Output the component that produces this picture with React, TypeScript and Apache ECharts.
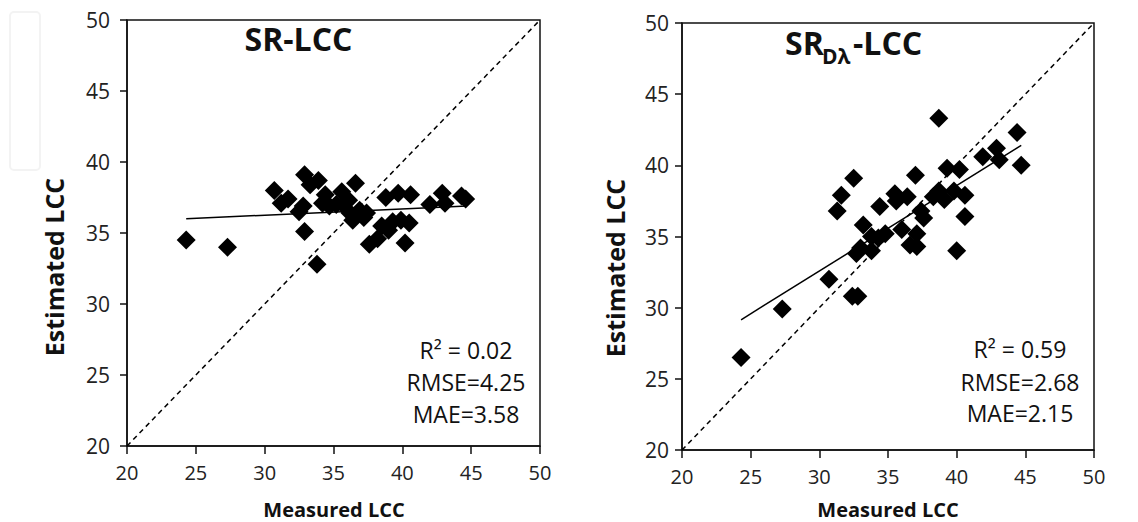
import React, { useEffect, useRef } from "react";
import * as echarts from "echarts";

// ---- data ----
const axisMin = 20;
const axisMax = 50;
const axisStep = 5;

const srPoints: number[][] = [
  [24.3, 34.5], [27.3, 34.0], [30.7, 38.0], [31.2, 37.1], [31.7, 37.4], [32.5, 36.5],
  [32.8, 36.9], [32.9, 35.1], [32.9, 39.1], [33.3, 38.4], [33.8, 32.8], [33.9, 38.7],
  [34.2, 37.1], [34.4, 37.7], [34.7, 36.9], [35.2, 37.0], [35.6, 37.9], [35.7, 37.0],
  [36.1, 37.3], [36.2, 36.4], [36.4, 35.9], [36.6, 38.5], [36.9, 36.6], [37.2, 36.1],
  [37.4, 36.4], [37.6, 34.2], [38.2, 34.6], [38.5, 35.5], [38.8, 37.5], [39.0, 35.2],
  [39.3, 35.8], [39.7, 37.8], [39.9, 35.9], [40.2, 34.3], [40.5, 35.7], [40.6, 37.7],
  [42.0, 37.0], [42.9, 37.8], [43.1, 37.1], [44.3, 37.6], [44.6, 37.4],
];

const srdPoints: number[][] = [
  [24.3, 26.5], [27.3, 29.9], [30.7, 32.0], [32.4, 30.8], [32.8, 30.8], [31.3, 36.8],
  [31.6, 37.9], [32.5, 39.1], [33.2, 35.8], [32.7, 33.8], [33.0, 34.2], [33.8, 34.0],
  [33.8, 35.0], [34.3, 34.9], [34.4, 37.1], [34.8, 35.2], [35.5, 38.0], [35.6, 37.5],
  [36.0, 35.5], [36.4, 37.8], [36.6, 34.4], [37.1, 34.3], [37.1, 35.2], [37.0, 39.3],
  [37.4, 36.8], [37.6, 36.3], [38.3, 37.8], [38.7, 38.2], [38.7, 43.3], [39.1, 37.6],
  [39.3, 39.8], [39.8, 38.2], [40.0, 34.0], [40.2, 39.7], [40.6, 37.9], [40.6, 36.4],
  [41.9, 40.6], [42.9, 41.2], [43.1, 40.4], [44.4, 42.3], [44.7, 40.0],
];

const identityLine: number[][] = [[20, 20], [50, 50]];
const srFit: number[][] = [[24.3, 36.0], [44.7, 36.9]];
const srdFit: number[][] = [[24.3, 29.15], [44.7, 41.4]];

const srStats: string[] = ["R² = 0.02", "RMSE=4.25", "MAE=3.58"];
const srdStats: string[] = ["R² = 0.59", "RMSE=2.68", "MAE=2.15"];

const xAxisName = "Measured LCC";
const yAxisName = "Estimated LCC";

const FONT = "'Open Sans', 'Noto Sans', sans-serif";
const INK = "#111";

export default function App() {
  const ref = useRef<HTMLDivElement>(null);

  useEffect(() => {
    document.body.style.margin = "0";
    if (!ref.current) return;
    const chart = echarts.init(ref.current, undefined, { renderer: "svg" });

    const mkX = (gridIndex: number) => ({
      gridIndex,
      type: "value",
      min: axisMin,
      max: axisMax,
      interval: axisStep,
      axisLine: { show: true, onZero: false, lineStyle: { color: INK, width: 1.5 } },
      axisTick: { show: true, inside: false, length: 8, lineStyle: { color: INK, width: 1.5 } },
      splitLine: { show: false },
      axisLabel: { fontSize: 20, color: "#222", margin: 16, fontFamily: FONT },
    });
    const mkY = (gridIndex: number, margin: number) => ({
      gridIndex,
      type: "value",
      min: axisMin,
      max: axisMax,
      interval: axisStep,
      axisLine: { show: true, onZero: false, lineStyle: { color: INK, width: 1.5 } },
      axisTick: { show: true, inside: false, length: 7, lineStyle: { color: INK, width: 1.5 } },
      splitLine: { show: false },
      axisLabel: { fontSize: 21, color: "#222", margin, fontFamily: FONT },
    });

    const scatter = (idx: number, data: number[][]) => ({
      type: "scatter",
      xAxisIndex: idx,
      yAxisIndex: idx,
      data,
      symbol: "diamond",
      symbolSize: 19,
      itemStyle: { color: "#000", opacity: 1 },
      z: 3,
    });
    const line = (idx: number, data: number[][], dashed: boolean) => ({
      type: "line",
      xAxisIndex: idx,
      yAxisIndex: idx,
      data,
      showSymbol: false,
      symbol: "none",
      lineStyle: { color: "#000", width: 1.5, type: dashed ? [5, 4] : "solid" },
      z: 4,
    });

    const statTexts = (cx: number, ys: number[], lines: string[]) =>
      lines.map((t, i) => ({
        type: "text",
        x: cx,
        y: ys[i],
        style: {
          text: t,
          fontSize: 23,
          fontFamily: FONT,
          fill: "#111",
          align: "center",
          verticalAlign: "middle",
        },
      }));

    const boldText = (x: number, y: number, text: string, size: number, align = "center", rotation = 0) => ({
      type: "text",
      x,
      y,
      rotation,
      style: {
        text,
        fontSize: size,
        fontWeight: "bold",
        fontFamily: FONT,
        fill: "#111",
        align,
        verticalAlign: "middle",
      },
    });

    chart.setOption({
      animation: false,
      backgroundColor: "#fff",
      grid: [
        { left: 127, top: 20, width: 413, height: 426, show: true, borderColor: INK, borderWidth: 1.5, backgroundColor: "transparent" },
        { left: 682, top: 23, width: 412, height: 427, show: true, borderColor: INK, borderWidth: 1.5, backgroundColor: "transparent" },
      ],
      xAxis: [mkX(0), mkX(1)],
      yAxis: [mkY(0, 17), mkY(1, 13)],
      series: [
        line(0, identityLine, true),
        scatter(0, srPoints),
        line(0, srFit, false),
        line(1, identityLine, true),
        scatter(1, srdPoints),
        line(1, srdFit, false),
      ],
      graphic: [
        {
          type: "rect",
          shape: { x: 10, y: 12, width: 30, height: 158, r: 4 },
          style: { fill: "none", stroke: "#f3f3f3", lineWidth: 2 },
          silent: true,
          z: -10,
        },
        boldText(298.5, 38.5, "SR-LCC", 32),
        boldText(785, 42.5, "SR", 32, "left"),
        boldText(822, 56, "Dλ", 21, "left"),
        boldText(853, 42.5, "-LCC", 32, "left"),
        boldText(334, 509, xAxisName, 20),
        boldText(888, 509, xAxisName, 20),
        boldText(53.5, 267, yAxisName, 25, "center", Math.PI / 2),
        boldText(615, 268, yAxisName, 25, "center", Math.PI / 2),
        ...statTexts(466, [350, 381.5, 413.5], srStats),
        ...statTexts(1020, [349, 381.5, 412.5], srdStats),
      ],
    });

    return () => chart.dispose();
  }, []);

  return <div ref={ref} style={{ width: 1138, height: 522 }} />;
}
